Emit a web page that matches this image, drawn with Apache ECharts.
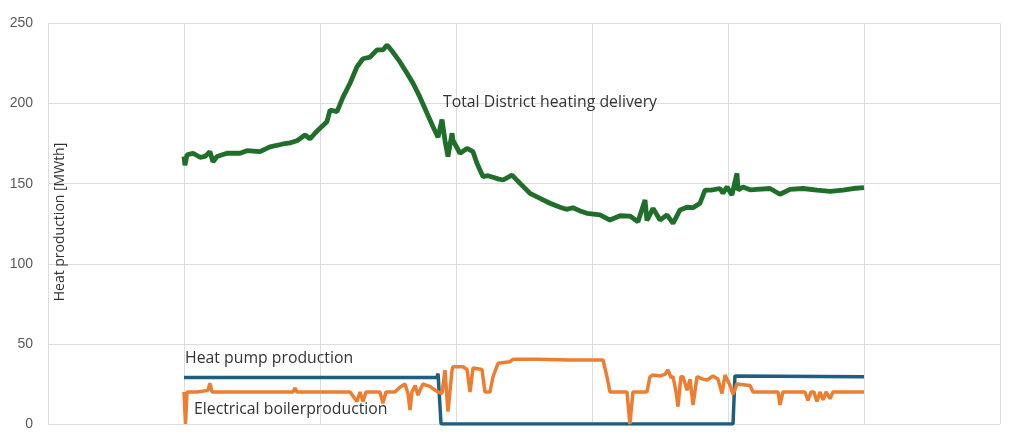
<!DOCTYPE html>
<html>
<head>
<meta charset="utf-8">
<script src="https://cdn.jsdelivr.net/npm/echarts@6/dist/echarts.min.js"></script>
<style>html,body{margin:0;padding:0;background:#fff;}#c{width:1024px;height:439px;}</style>
</head>
<body>
<div id="c"></div>
<script>
// x positions in time units (one unit per vertical gridline)
var totalX = [0,0.007,0.022,0.066,0.118,0.154,0.191,0.213,0.243,0.316,0.412,0.463,0.559,0.632,0.728,0.779,0.831,0.890,0.926,0.963,1.000,1.051,1.074,1.125,1.169,1.221,1.272,1.316,1.368,1.419,1.463,1.493,1.537,1.588,1.640,1.684,1.735,1.787,1.831,1.868,1.897,1.919,1.941,1.971,1.978,2.029,2.081,2.125,2.154,2.199,2.235,2.272,2.309,2.346,2.412,2.471,2.544,2.618,2.691,2.765,2.812,2.860,2.912,2.963,3.059,3.132,3.206,3.279,3.338,3.390,3.404,3.449,3.500,3.551,3.596,3.647,3.699,3.743,3.794,3.831,3.875,3.941,3.963,3.993,4.029,4.066,4.074,4.110,4.162,4.213,4.309,4.382,4.456,4.551,4.654,4.750,4.846,4.919,5.000];
var totalY = [167,161.5,168,169,166.5,167,170,163.7,167,169,169,170.6,170,173,174.8,175.5,176.8,180.4,178,181.5,184.6,188.7,196,195,204,212.7,223,228,229,233.5,233.5,236.6,232,226,219,212.7,204,194,185.6,179,190,177,167,181.5,177,169,172,170,162.7,154.4,155,154,153,152.3,155.4,150.2,144,140.9,137.8,135.3,134,135,133,131.5,130.5,127.3,130,129.8,126.3,139.8,127,134.6,127.3,130.5,125.3,133.6,135.3,135,137.8,146,146,147,144,148,143,156.5,146,148,146.2,146.5,147,143.4,146.5,147,146,145.2,146,147,147.5];

var pumpX = [0,1.860,1.868,1.882,1.890,4.037,4.051,5.000];
var pumpY = [29,29,31.5,31,0,0,30,29.5];

var boilerX = [0,0.011,0.022,0.096,0.176,0.191,0.206,0.559,0.801,0.816,0.831,1.221,1.272,1.294,1.316,1.338,1.441,1.463,1.485,1.551,1.588,1.625,1.647,1.662,1.676,1.699,1.721,1.735,1.757,1.787,1.809,1.831,1.868,1.897,1.919,1.941,1.971,1.978,2.051,2.081,2.103,2.125,2.191,2.213,2.250,2.272,2.309,2.397,2.419,2.596,2.838,3.081,3.110,3.132,3.257,3.279,3.301,3.404,3.426,3.449,3.500,3.537,3.559,3.581,3.596,3.618,3.632,3.654,3.669,3.699,3.721,3.743,3.772,3.816,3.846,3.890,3.926,3.956,3.978,4.015,4.037,4.066,4.162,4.184,4.368,4.382,4.404,4.566,4.588,4.610,4.632,4.654,4.676,4.699,4.721,4.750,4.772,5.000];
var boilerY = [20,0,20,20,21,25.4,20,20,20,22.5,20,20,14,20,14,20,20,13,20,20,23,25,19,8.7,20,24,18,21,25,24,23.5,22,20,19,33.7,7.7,33.7,35.8,35.8,34,20,35,34,20,20,29.5,37.9,38.9,40.4,40.4,40,40,29.5,20,20,0,20,20,29.5,30.6,30,31,33.7,29,29.5,20,10.8,29.5,29.5,21,28,11.8,29.5,28,27.5,30,28,19,30.6,24,18.5,25,24,20,20,11.9,20,20,14.7,20,20,14,20,15,20,15.8,20,20];

var yTicks = [0,50,100,150,200,250];

function pairs(xs, ys){ return xs.map(function(x,i){ return [x, ys[i]]; }); }

var FONT = '"Open Sans"';
var chart = echarts.init(document.getElementById('c'), null, {renderer:'canvas'});
chart.setOption({
  animation:false,
  backgroundColor:'#ffffff',
  grid:{left:48,right:24,top:23.5,bottom:15,containLabel:false,outerBoundsMode:'none'},
  xAxis:{type:'value',min:-1,max:6,interval:1,
    axisLine:{show:false},axisTick:{show:false},axisLabel:{show:false},
    splitLine:{show:true,lineStyle:{color:'#dcdcdc',width:1}}},
  yAxis:{type:'value',min:yTicks[0],max:yTicks[yTicks.length-1],interval:50,
    axisLine:{show:false},axisTick:{show:false},
    axisLabel:{color:'#595959',fontSize:14,fontFamily:'Liberation Sans',margin:15},
    splitLine:{show:true,lineStyle:{color:'#dcdcdc',width:1}}},
  series:[
    {name:'Heat pump production',type:'line',data:pairs(pumpX,pumpY),showSymbol:false,
      lineStyle:{color:'#1d5f80',width:3.5},itemStyle:{color:'#1d5f80'},z:2},
    {name:'Electrical boilerproduction',type:'line',data:pairs(boilerX,boilerY),showSymbol:false,
      lineStyle:{color:'#ed7d31',width:3.5},itemStyle:{color:'#ed7d31'},z:3},
    {name:'Total District heating delivery',type:'line',data:pairs(totalX,totalY),showSymbol:false,
      lineStyle:{color:'#1f6f2b',width:4.8},itemStyle:{color:'#1f6f2b'},z:4}
  ],
  graphic:[
    {type:'text',z:10,x:60,y:222,rotation:Math.PI/2,style:{text:'Heat production [MWth]',align:'center',verticalAlign:'middle',fill:'#333333',font:'14px ' + FONT}},
    {type:'text',z:10,style:{text:'Total District heating delivery',x:443,y:102,verticalAlign:'middle',fill:'#333333',font:'15.8px ' + FONT}},
    {type:'text',z:10,style:{text:'Heat pump production',x:185,y:358,verticalAlign:'middle',fill:'#333333',font:'15.8px ' + FONT}},
    {type:'text',z:10,style:{text:'Electrical boilerproduction',x:194,y:409,verticalAlign:'middle',fill:'#333333',font:'15.8px ' + FONT}}
  ]
});
</script>
</body>
</html>
